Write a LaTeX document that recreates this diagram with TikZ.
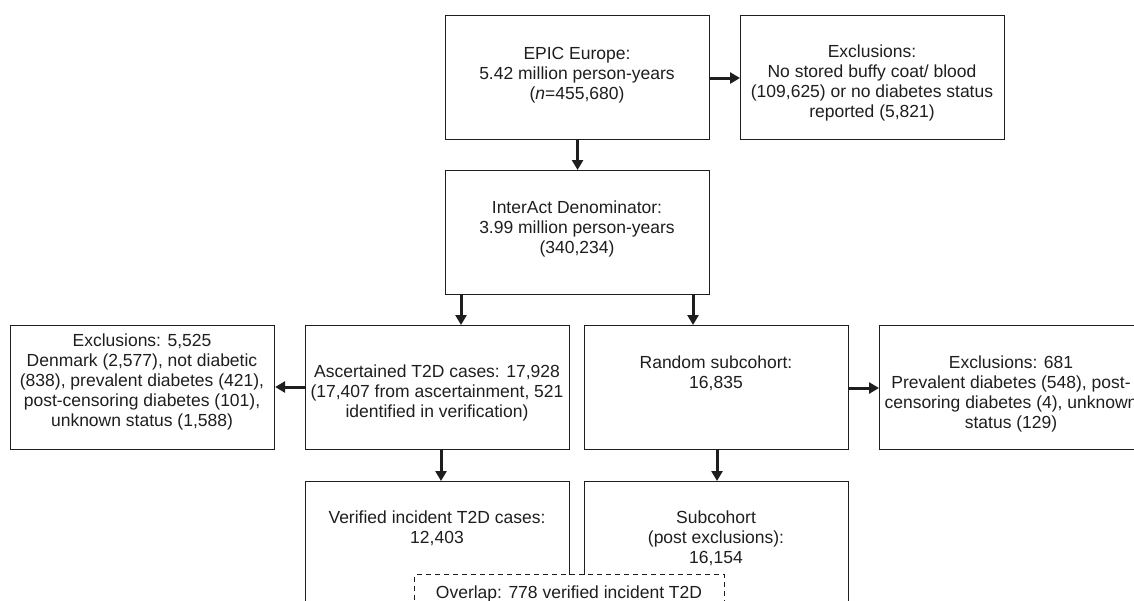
\documentclass[tikz,border=0pt]{standalone}
\usepackage{fontspec}
\setmainfont{Liberation Sans}
\usetikzlibrary{arrows.meta}
\definecolor{ink}{HTML}{1E1E1E}
\begin{document}
\begin{tikzpicture}[x=1pt,y=-1pt,
  box/.style={draw=ink,line width=1.1pt,minimum width=264pt,minimum height=124pt,inner sep=0pt,anchor=north west},
  txt/.style={align=center,text=ink,font=\fontsize{17.5}{20}\selectfont,inner sep=0pt},
  flow/.style={draw=ink,line width=3pt,-{Triangle[width=11pt,length=10pt]}},
  overlapbox/.style={draw=ink,line width=1pt,dash pattern=on 5pt off 4pt,fill=white}]
\useasboundingbox (0,0) rectangle (1134,600);
% boxes
\node[box] (epic) at (445,15) {};
\node[box] (exA) at (740,15) {};
\node[box] (inter) at (445,170) {};
\node[box] (exB) at (10,325) {};
\node[box] (asc) at (305,325) {};
\node[box] (rand) at (584,325) {};
\node[box] (exC) at (879,325) {};
\node[box] (ver) at (305,481) {};
\node[box] (sub) at (584,481) {};
% texts
\node[txt] (tepic) at (577,75) {EPIC Europe:\\5.42 million person-years\\(\textit{n}=455,680)};
\node[txt] (texA) at (872,83) {Exclusions:\\No stored buffy coat/ blood\\(109,625) or no diabetes status\\reported (5,821)};
\node[txt] (tinter) at (577,229) {InterAct Denominator:\\3.99 million person-years\\(340,234)};
\node[txt] (texB) at (142,382) {Exclusions: 5,525\\Denmark (2,577), not diabetic\\(838), prevalent diabetes (421),\\post-censoring diabetes (101),\\unknown status (1,588)};
\node[txt] (tasc) at (437,393) {Ascertained T2D cases: 17,928\\(17,407 from ascertainment, 521\\identified in verification)};
\node[txt] (trand) at (716,373) {Random subcohort:\\16,835};
\node[txt] (texC) at (1011,394) {Exclusions: 681\\Prevalent diabetes (548), post-\\censoring diabetes (4), unknown\\status (129)};
\node[txt] (tver) at (437,528) {Verified incident T2D cases:\\12,403};
\node[txt] (tsub) at (716,538) {Subcohort\\(post exclusions):\\16,154};
% overlap box
\node[overlapbox,minimum width=310pt,minimum height=80pt,anchor=north west,inner sep=0pt] (ovl) at (414,574) {};
\node[txt,anchor=base] (tovl) at (569,598) {Overlap: 778 verified incident T2D};
% connectors
\draw[flow] (epic.south) -- (inter.north);
\draw[flow] (epic.east |- 0,78) -- (exA.west |- 0,78);
\draw[flow] (inter.south west -| 461,0) -- (asc.north -| 461,0);
\draw[flow] (inter.south west -| 693,0) -- (rand.north -| 693,0);
\draw[flow] (asc.west |- 0,387) -- (exB.east |- 0,387);
\draw[flow] (rand.east |- 0,388) -- (exC.west |- 0,388);
\draw[flow] (asc.south west -| 441,0) -- (ver.north -| 441,0);
\draw[flow] (rand.south west -| 717,0) -- (sub.north -| 717,0);
\end{tikzpicture}
\end{document}
